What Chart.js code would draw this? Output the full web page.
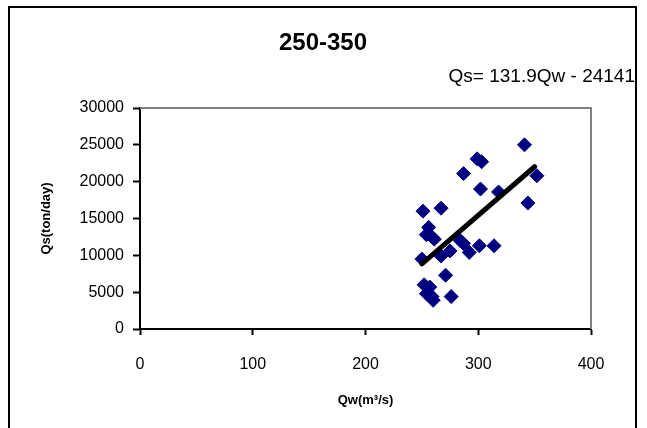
<!DOCTYPE html>
<html>
<head>
<meta charset="utf-8">
<script src="https://cdn.jsdelivr.net/npm/chart.js@4.4.0/dist/chart.umd.min.js"></script>
<style>
  html, body { margin: 0; padding: 0; background: #fff; }
</style>
</head>
<body>
<canvas id="myChart" width="647" height="428"></canvas>
<script>
// Qw (m3/s) and Qs (ton/day)
const qw = [341, 299, 303, 287, 352, 302, 318, 344, 251, 267, 256, 254, 259, 261, 284,
            287, 301, 314, 275, 292, 267, 250, 271, 252, 257, 254, 259, 260, 276];
const qs = [25000, 23100, 22700, 21100, 20800, 19000, 18600, 17100, 16000, 16400, 13800, 12800, 12500, 12200, 12000,
            11600, 11300, 11300, 10600, 10400, 9900, 9500, 7300, 6000, 5700, 4800, 4400, 3900, 4400];

// trend line  Qs = 131.9 Qw - 24141
const slope = 131.9;
const intercept = -24141;
const fitRange = [250, 350];

const xTicks = [0, 100, 200, 300, 400];
const yTicks = [0, 5000, 10000, 15000, 20000, 25000, 30000];

const chartTitle = '250-350';
const equationText = 'Qs= 131.9Qw - 24141';
const xTitle = 'Qw(m\u00b3/s)';
const yTitle = 'Qs(ton/day)';

const FONT = "'Liberation Sans', Arial, sans-serif";

const points = qw.map((x, i) => ({ x: x, y: qs[i] }));
const fitLine = fitRange.map(x => ({ x: x, y: slope * x + intercept }));

const frame = {
    id: 'frame',
    beforeDatasetsDraw(chart) {
        const { ctx, chartArea: a } = chart;
        ctx.save();
        ctx.strokeStyle = '#808080';
        ctx.lineWidth = 2;
        ctx.beginPath();
        ctx.moveTo(a.left, a.top);
        ctx.lineTo(a.right, a.top);
        ctx.lineTo(a.right, a.bottom);
        ctx.stroke();
        ctx.restore();
    },
    afterDraw(chart) {
        const ctx = chart.ctx;
        ctx.save();
        ctx.strokeStyle = '#000';
        ctx.lineWidth = 2;
        ctx.strokeRect(9, 7, 627, 440);
        ctx.fillStyle = '#000';
        ctx.textBaseline = 'middle';
        ctx.font = 'bold 24px ' + FONT;
        ctx.textAlign = 'center';
        ctx.fillText(chartTitle, 323, 43);
        ctx.font = '19px ' + FONT;
        ctx.textAlign = 'right';
        ctx.fillText(equationText, 635, 77);
        ctx.restore();
    }
};

const config = {
    type: 'scatter',
    data: {
        datasets: [{
            type: 'line',
            label: 'fit',
            data: fitLine,
            borderColor: '#000',
            borderWidth: 5,
            borderCapStyle: 'round',
            pointRadius: 0,
            order: 0
        }, {
            label: 'Qs',
            data: points,
            pointStyle: 'rectRot',
            pointRadius: 7,
            pointHoverRadius: 7,
            backgroundColor: '#000080',
            borderColor: '#000080',
            borderWidth: 1,
            order: 1
        }]
    },
    options: {
        responsive: false,
        animation: false,
        layout: { padding: { top: 108, right: 56, left: 0, bottom: 0 } },
        plugins: {
            legend: { display: false },
            tooltip: { enabled: false }
        },
        scales: {
            x: {
                type: 'linear',
                min: xTicks[0],
                max: xTicks[xTicks.length - 1],
                afterBuildTicks: s => { s.ticks = xTicks.map(v => ({ value: v })); },
                afterFit: s => { s.height = 99; },
                ticks: { color: '#000', font: { family: FONT, size: 16 }, padding: 20, maxRotation: 0, callback: v => String(v) },
                grid: { drawOnChartArea: false, drawTicks: true, tickLength: 6, tickColor: '#000', tickWidth: 2 },
                border: { color: '#000', width: 2 },
                title: { display: true, text: xTitle, color: '#000', font: { family: FONT, size: 13, weight: 'bold' }, padding: { top: 0, bottom: 20 } }
            },
            y: {
                min: yTicks[0],
                max: yTicks[yTicks.length - 1],
                afterBuildTicks: s => { s.ticks = yTicks.map(v => ({ value: v })); },
                afterFit: s => { s.width = 140; },
                ticks: { color: '#000', font: { family: FONT, size: 16 }, padding: 9, callback: v => String(v) },
                grid: { drawOnChartArea: false, drawTicks: true, tickLength: 7, tickColor: '#000', tickWidth: 2 },
                border: { color: '#000', width: 2 },
                title: { display: true, text: yTitle, color: '#000', font: { family: FONT, size: 13, weight: 'bold' }, padding: { top: 39, bottom: 0 } }
            }
        }
    },
    plugins: [frame]
};

const myChart = new Chart(document.getElementById('myChart'), config);
</script>
</body>
</html>
